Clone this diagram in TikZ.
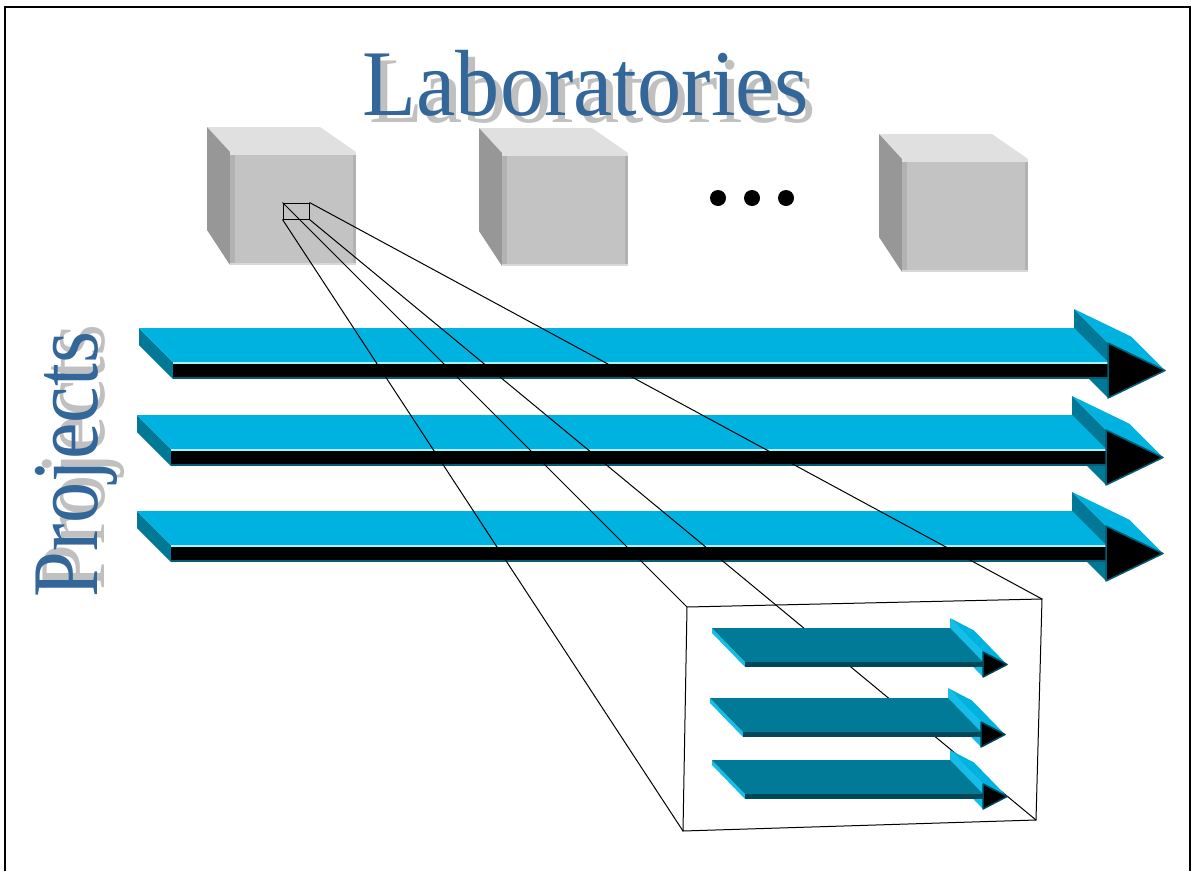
\documentclass[tikz,border=0pt]{standalone}
\usepackage{graphicx}
\usepackage{fontspec}
\setmainfont{Liberation Serif}

\definecolor{projcyan}{HTML}{00B2DF}
\definecolor{projteal}{HTML}{007896}
\definecolor{projedge}{HTML}{A6F4FF}
\definecolor{projdark}{HTML}{005E75}
\definecolor{taskteal}{HTML}{007A96}
\definecolor{taskdark}{HTML}{00475A}
\definecolor{taskcyan}{HTML}{14BEE8}
\definecolor{titleblue}{HTML}{336699}
\definecolor{shadowgray}{HTML}{C0C0C0}
\definecolor{cubetop}{HTML}{E0E0E0}
\definecolor{cubefront}{HTML}{C3C3C3}
\definecolor{cubeside}{HTML}{979797}
\definecolor{cubeedge}{HTML}{B2B2B2}
\definecolor{cubelow}{HTML}{D8D8D8}

\newcommand{\titlefont}{\fontsize{94}{94}\selectfont}
% blue text with its grey shadow behind it
\newcommand{\shadowtext}[1]{\rlap{\hspace{7pt}\raisebox{-7pt}{\color{shadowgray}#1}}{\color{titleblue}#1}}

% big project arrow, origin = front top left corner of the shaft
\newcommand{\bigarrow}[2]{%
  \begin{scope}[shift={(#1,#2)}]
    \fill[projteal] (901,-53) -- (935,-19) -- (935,36) -- (901,2) -- cycle;
    \fill[projcyan] (901,-53) -- (958,-25.5) -- (992,8.5) -- (935,-19) -- cycle;
    \fill[projteal] (-34,-34) -- (0,0) -- (0,17) -- (-34,-17) -- cycle;
    \fill[projcyan] (-34,-34) -- (901,-34) -- (935,0) -- (0,0) -- cycle;
    \fill[black] (0,0) rectangle (935,17);
    \draw[projedge, line width=2] (0,0.5) -- (935,0.5);
    \draw[projdark, line width=2] (0,16) -- (935,16);
    \filldraw[fill=black, draw=projdark, line width=1.5, line join=round]
      (935,-19) -- (935,36) -- (992,8.5) -- cycle;
  \end{scope}}

% small task arrow inside the zoomed box
\newcommand{\smallarrow}[2]{%
  \begin{scope}[shift={(#1,#2)}]
    \fill[taskcyan] (205,-44) -- (238,-10) -- (238,15) -- (205,-19) -- cycle;
    \fill[projcyan] (205,-44) -- (229,-31.5) -- (262,2.5) -- (238,-10) -- cycle;
    \fill[taskcyan] (-33,-34) -- (0,0) -- (0,5) -- (-33,-29) -- cycle;
    \fill[taskteal] (-33,-34) -- (205,-34) -- (238,0) -- (0,0) -- cycle;
    \fill[taskdark] (0,0) rectangle (238,5);
    \filldraw[fill=black, draw=taskdark, line width=1.5, line join=round]
      (238,-10) -- (238,15) -- (262,2.5) -- cycle;
  \end{scope}}

% laboratory cube, origin = front top left corner
\newcommand{\labcube}[2]{%
  \begin{scope}[shift={(#1,#2)}]
    \fill[cubetop] (-23,-25) -- (90,-25) -- (126,0) -- (0,0) -- cycle;
    \fill[cubeside] (-23,-25) -- (0,0) -- (0,113) -- (-23,78) -- cycle;
    \fill[cubefront] (0,0) rectangle (126,113);
    \fill[cubeedge] (0,0) rectangle (5,113);
    \fill[cubeedge] (123,0) rectangle (126,113);
    \fill[cubetop] (0,0) rectangle (126,2.5);
    \fill[cubelow] (0,110.5) rectangle (126,113);
  \end{scope}}

\tikzset{
  zoomline/.style={black, line width=1},
  title/.style={font=\titlefont, inner sep=0, anchor=base}
}

\begin{document}
\begin{tikzpicture}[x=1pt, y=-1pt]
\useasboundingbox (0,0) rectangle (1195,871);
\draw[line width=2] (5,871) -- (5,7) -- (1190,7) -- (1190,871);

% titles
\node (labs) [title] at (586,115) {\shadowtext{\scalebox{0.94}[1]{Laboratories}}};
\node (proj) [title, rotate=90] at (97,464.5) {\shadowtext{\scalebox{0.875}[1]{Projects}}};

% laboratories
\labcube{230}{152}
\labcube{502}{153}
\labcube{902}{159}
\foreach \d in {718,752,786}
  \fill (\d,198) circle (8);

% projects
\bigarrow{173}{362}
\bigarrow{171}{449}
\bigarrow{171}{545}

% zoom into one laboratory
\node (zoomsrc) [draw, line width=1, minimum width=26, minimum height=16, inner sep=0] at (296,211) {};
\coordinate (inset-nw) at (687,607);
\coordinate (inset-ne) at (1042,599);
\coordinate (inset-se) at (1036,820);
\coordinate (inset-sw) at (683,831);
\draw[zoomline] (zoomsrc.north west) -- (inset-nw);
\draw[zoomline] (zoomsrc.north east) -- (inset-ne);
\draw[zoomline] (zoomsrc.south west) -- (inset-sw);
\draw[zoomline] (zoomsrc.south east) -- (inset-se);
\draw[zoomline] (inset-nw) -- (inset-ne) -- (inset-se) -- (inset-sw) -- cycle;

\smallarrow{745}{662}
\smallarrow{743}{732}
\smallarrow{745}{794}
\end{tikzpicture}
\end{document}
